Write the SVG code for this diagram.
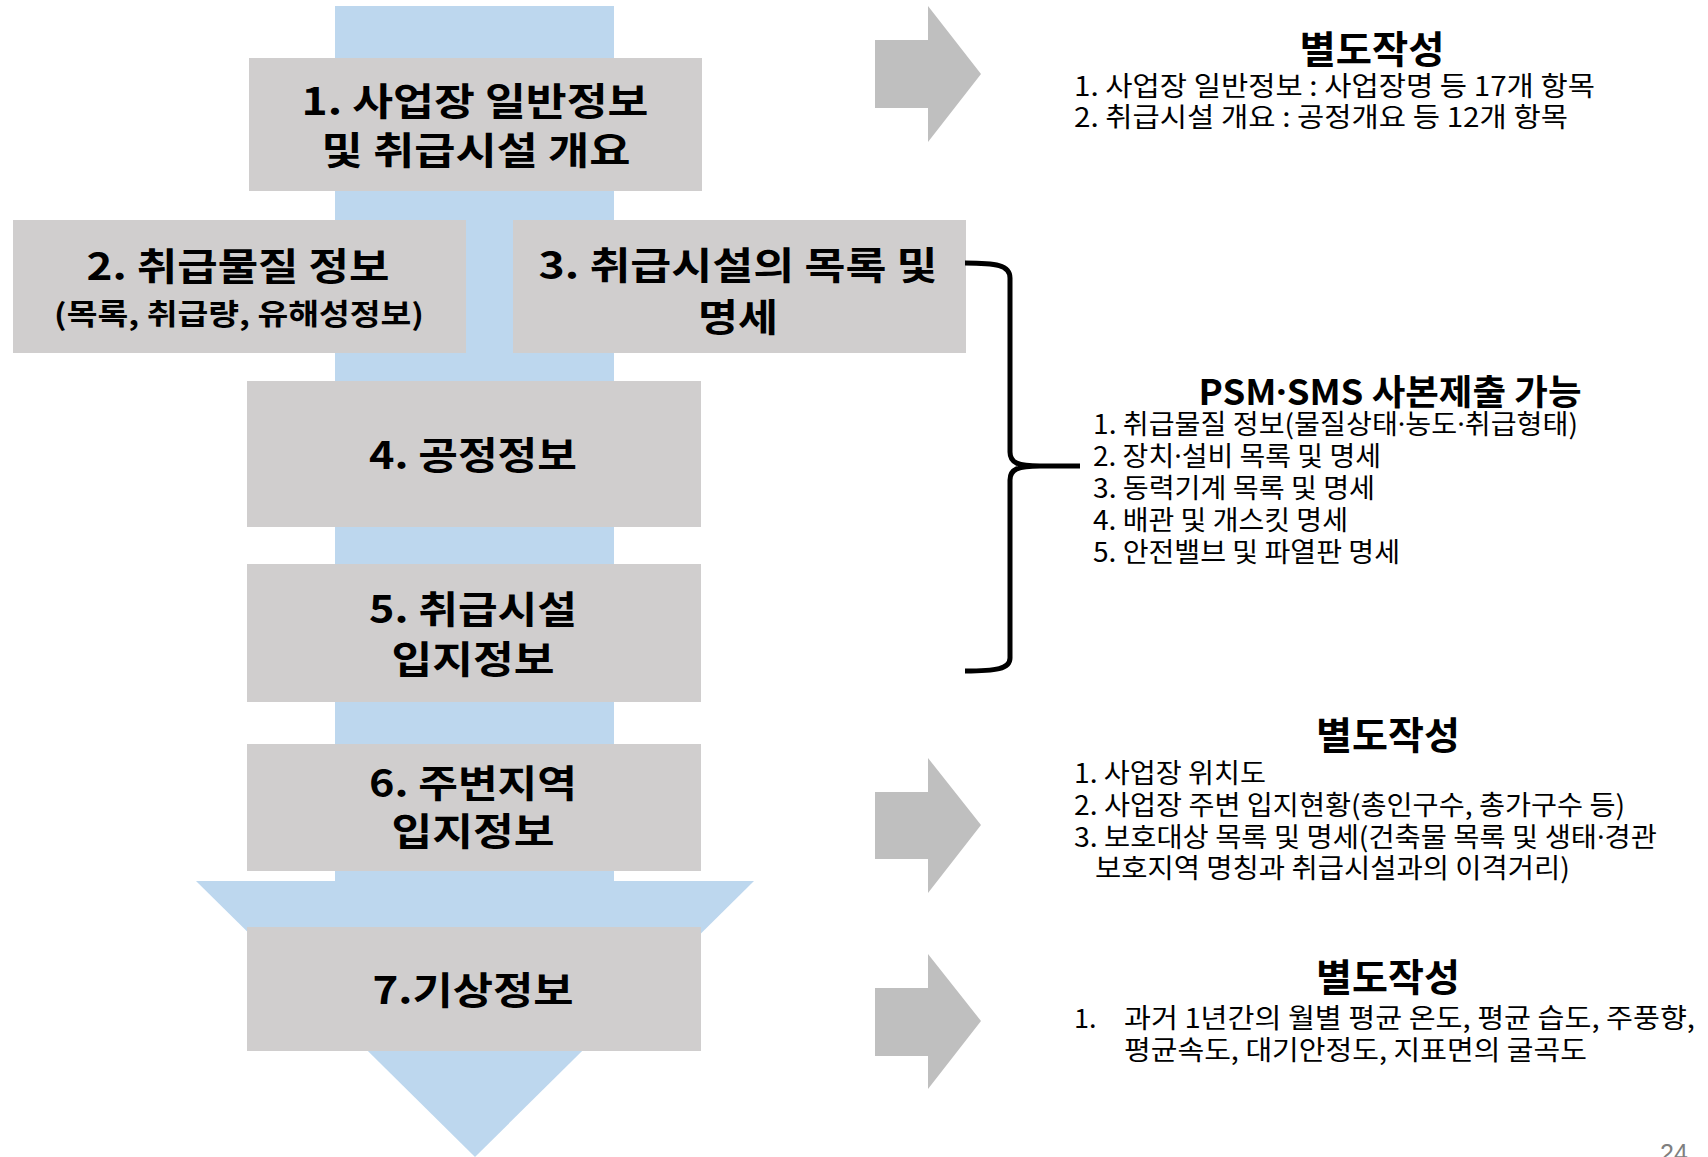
<svg xmlns="http://www.w3.org/2000/svg" width="1708" height="1157" viewBox="0 0 1708 1157">
<style>
.box{fill:#D0CECE}
.flow{fill:#BDD7EE}
.arr{fill:#BFBFBF}
text{font-family:"Noto Sans CJK KR","Noto Sans",sans-serif;fill:#000}
.bt{font-weight:bold;font-size:38px;text-anchor:middle}
.bs{font-weight:bold;font-size:29px;text-anchor:middle}
.ht{font-weight:bold;font-size:38px;text-anchor:middle}
.ph{font-weight:bold;font-size:35px;text-anchor:middle}
.it{font-size:27px}
.d{font-family:"Noto Sans","Liberation Sans",sans-serif}
.pg{font-family:"Liberation Sans",Arial,sans-serif;font-size:25px;fill:#7F7F7F}
.brace{fill:none;stroke:#000;stroke-width:5;stroke-linecap:butt;stroke-linejoin:round}
</style>
<rect width="1708" height="1157" fill="#fff"/>
<g id="flow-arrow">
<rect class="flow" x="335" y="6" width="279" height="876"/>
<polygon class="flow" points="196,881 754,881 475,1157"/>
</g>
<g id="node1">
<rect class="box" x="249" y="58" width="453" height="133"/>
<text class="bt" x="475" y="115" textLength="347" lengthAdjust="spacingAndGlyphs">1. 사업장 일반정보</text>
<text class="bt" x="476" y="164" textLength="309" lengthAdjust="spacingAndGlyphs">및 취급시설 개요</text>
</g>
<g id="node2">
<rect class="box" x="13" y="220" width="453" height="133"/>
<text class="bt" x="238" y="280" textLength="303" lengthAdjust="spacingAndGlyphs">2. 취급물질 정보</text>
<text class="bs" x="239" y="325" textLength="370" lengthAdjust="spacingAndGlyphs">(목록, 취급량, 유해성정보)</text>
</g>
<g id="node3">
<rect class="box" x="513" y="220" width="453" height="133"/>
<text class="bt" x="738" y="279" textLength="399" lengthAdjust="spacingAndGlyphs">3. 취급시설의 목록 및</text>
<text class="bt" x="738" y="331" textLength="80" lengthAdjust="spacingAndGlyphs">명세</text>
</g>
<g id="node4">
<rect class="box" x="247" y="381" width="454" height="146"/>
<text class="bt" x="473" y="469" textLength="208" lengthAdjust="spacingAndGlyphs">4. 공정정보</text>
</g>
<g id="node5">
<rect class="box" x="247" y="564" width="454" height="138"/>
<text class="bt" x="473" y="623" textLength="208" lengthAdjust="spacingAndGlyphs">5. 취급시설</text>
<text class="bt" x="473" y="673" textLength="163" lengthAdjust="spacingAndGlyphs">입지정보</text>
</g>
<g id="node6">
<rect class="box" x="247" y="744" width="454" height="127"/>
<text class="bt" x="473" y="797" textLength="208" lengthAdjust="spacingAndGlyphs">6. 주변지역</text>
<text class="bt" x="473" y="845" textLength="163" lengthAdjust="spacingAndGlyphs">입지정보</text>
</g>
<g id="node7">
<rect class="box" x="247" y="927" width="454" height="124"/>
<text class="bt" x="473" y="1004" textLength="201" lengthAdjust="spacingAndGlyphs">7.기상정보</text>
</g>
<g id="connectors">
<polygon class="arr" points="875,40 928,40 928,6 981,74 928,142 928,108 875,108"/>
<polygon class="arr" points="875,792 928,792 928,758 981,825 928,893 928,859 875,859"/>
<polygon class="arr" points="875,988 928,988 928,954 981,1021 928,1089 928,1056 875,1056"/>
<path class="brace" d="M965,263 C996,263 1010,265 1010,278 L1010,452 C1010,463 1018,466 1040,466 L1080,466 M1040,466 C1018,466 1010,469 1010,480 L1010,658 C1010,669 996,671 965,671"/>
</g>
<g id="note1">
<text class="ht" x="1372" y="63" textLength="145" lengthAdjust="spacingAndGlyphs">별도작성</text>
<text class="it" x="1074" y="96" textLength="521" lengthAdjust="spacingAndGlyphs">1. 사업장 일반정보 : 사업장명 등 17개 항목</text>
<text class="it" x="1074" y="127" textLength="494" lengthAdjust="spacingAndGlyphs">2. 취급시설 개요 : 공정개요 등 12개 항목</text>
</g>
<g id="note2">
<text class="ph" x="1390" y="405" textLength="383" lengthAdjust="spacingAndGlyphs">PSM<tspan class="d">·</tspan>SMS 사본제출 가능</text>
<text class="it" x="1093" y="434" textLength="485" lengthAdjust="spacingAndGlyphs">1. 취급물질 정보(물질상태<tspan class="d">·</tspan>농도<tspan class="d">·</tspan>취급형태)</text>
<text class="it" x="1093" y="466" textLength="288" lengthAdjust="spacingAndGlyphs">2. 장치<tspan class="d">·</tspan>설비 목록 및 명세</text>
<text class="it" x="1093" y="498" textLength="282" lengthAdjust="spacingAndGlyphs">3. 동력기계 목록 및 명세</text>
<text class="it" x="1093" y="530" textLength="255" lengthAdjust="spacingAndGlyphs">4. 배관 및 개스킷 명세</text>
<text class="it" x="1093" y="562" textLength="307" lengthAdjust="spacingAndGlyphs">5. 안전밸브 및 파열판 명세</text>
</g>
<g id="note3">
<text class="ht" x="1388" y="749" textLength="144" lengthAdjust="spacingAndGlyphs">별도작성</text>
<text class="it" x="1074" y="783" textLength="192" lengthAdjust="spacingAndGlyphs">1. 사업장 위치도</text>
<text class="it" x="1074" y="815" textLength="551" lengthAdjust="spacingAndGlyphs">2. 사업장 주변 입지현황(총인구수, 총가구수 등)</text>
<text class="it" x="1074" y="847" textLength="583" lengthAdjust="spacingAndGlyphs">3. 보호대상 목록 및 명세(건축물 목록 및 생태<tspan class="d">·</tspan>경관</text>
<text class="it" x="1095" y="878" textLength="475" lengthAdjust="spacingAndGlyphs">보호지역 명칭과 취급시설과의 이격거리)</text>
</g>
<g id="note4">
<text class="ht" x="1388" y="991" textLength="144" lengthAdjust="spacingAndGlyphs">별도작성</text>
<text class="it" x="1074" y="1028">1.</text>
<text class="it" x="1124" y="1028" textLength="571" lengthAdjust="spacingAndGlyphs">과거 1년간의 월별 평균 온도, 평균 습도, 주풍향,</text>
<text class="it" x="1124" y="1060" textLength="463" lengthAdjust="spacingAndGlyphs">평균속도, 대기안정도, 지표면의 굴곡도</text>
</g>
<text class="pg" x="1660" y="1162">24</text>
</svg>
